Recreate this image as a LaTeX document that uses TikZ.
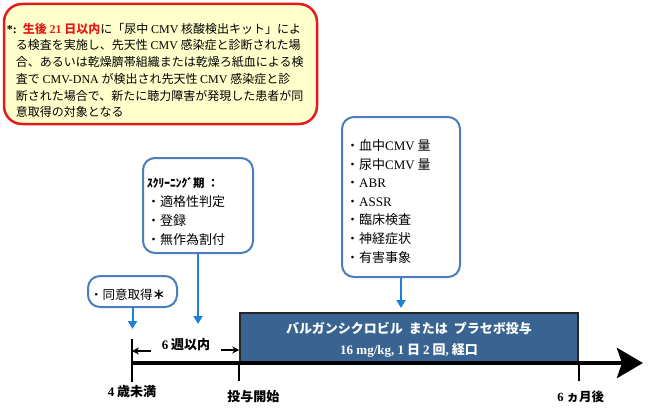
\documentclass[tikz,border=0pt]{standalone}
\usepackage{fontspec}
\setmainfont{Noto Sans CJK JP}
\newfontfamily\lat{Liberation Serif}
\usetikzlibrary{arrows.meta, positioning}

\definecolor{notered}{HTML}{E51B1B}
\definecolor{noteyellow}{HTML}{FFFFCC}
\definecolor{boxblue}{HTML}{4A7EBB}
\definecolor{arrowblue}{HTML}{1E7FD8}
\definecolor{drugblue}{HTML}{396492}

\begin{document}
\begin{tikzpicture}[x=1pt, y=-1pt]
    \tikzstyle{notebox}=[draw=notered, line width=2.5pt, fill=noteyellow, rounded corners=18pt, minimum width=313pt, minimum height=120pt]
    \tikzstyle{infobox}=[draw=boxblue, line width=2pt, rounded corners=12pt, fill=white]
    \tikzstyle{boxtext}=[anchor=base west, inner sep=0pt, font=\fontsize{13}{18.6}\selectfont]
    \tikzstyle{drugbox}=[draw=black!85, line width=1.5pt, fill=drugblue, minimum width=338pt, minimum height=49pt]
    \tikzstyle{drugtext}=[text=white, align=center, inner sep=0pt, font=\bfseries\fontsize{13}{20.5}\selectfont]
    \tikzstyle{bluearrow}=[draw=arrowblue, line width=2pt, -{Triangle[length=8pt, width=9pt]}]
    \tikzstyle{weekarrow}=[line width=1.2pt, -{Stealth[length=7pt, width=7pt]}]
    \tikzstyle{tickline}=[line width=2pt]
    \tikzstyle{timelabel}=[inner sep=0pt, font=\bfseries\fontsize{13}{15}\selectfont]

    \useasboundingbox (0,0) rectangle (651,420);

    % note at top left
    \node[notebox] (note) at (160.5,64) {};
    \node[boxtext, font=\fontsize{12}{16.7}\selectfont] (notetext) at ([shift={(4,30.5)}]note.north west) {%
        \begin{tabular}[t]{@{}p{9pt}@{}l@{}}
        \multicolumn{2}{@{}l@{}}{{\lat\bfseries *:}\hspace{6pt}{\color{notered}\bfseries 生後 {\lat 21} 日以内}に「尿中 {\lat CMV} 核酸検出キット」によ}\\
        & る検査を実施し、先天性 {\lat CMV} 感染症と診断された場\\
        & 合、あるいは乾燥臍帯組織または乾燥ろ紙血による検\\
        & 査で {\lat CMV-DNA} が検出され先天性 {\lat CMV} 感染症と診\\
        & 断された場合で、新たに聴力障害が発現した患者が同\\
        & 意取得の対象となる
        \end{tabular}};

    % boxes above the time line
    \node[infobox, minimum width=89pt, minimum height=31pt] (consent) at (132.5,291.5) {};
    \node[boxtext, font=\fontsize{12.5}{15}\selectfont] (consenttext) at ([shift={(3,8)}]consent.west) {・同意取得{\bfseries ＊}};

    \node[infobox, minimum width=110pt, minimum height=95pt] (screen) at (198,205.5) {};
    \node[boxtext, font=\fontsize{13}{18.9}\selectfont] (screentext) at ([shift={(5,30.5)}]screen.north west) {%
        \begin{tabular}[t]{@{}l@{}}
        {\bfseries\fontsize{11.5}{18.9}\selectfont ｽｸﾘｰﾆﾝｸﾞ期 ：}\\
        ・適格性判定\\
        ・登録\\
        ・無作為割付
        \end{tabular}};

    \node[infobox, minimum width=118pt, minimum height=160pt] (eval) at (401,197) {};
    \node[boxtext] (evaltext) at ([shift={(5,34.5)}]eval.north west) {%
        \begin{tabular}[t]{@{}l@{}}
        ・血中{\lat CMV} 量\\
        ・尿中{\lat CMV} 量\\
        ・{\lat ABR}\\
        ・{\lat ASSR}\\
        ・臨床検査\\
        ・神経症状\\
        ・有害事象
        \end{tabular}};

    % treatment period
    \node[drugbox] (drug) at (409,337.5) {};
    \node[drugtext] (drugtext) at ([yshift=-2.5pt]drug.center) {バルガンシクロビル\hspace{6pt}または\hspace{6pt}プラセボ投与\\{\lat 16 mg/kg, 1} 日 {\lat 2} 回{\lat ,} 経口};

    % time line
    \coordinate (t0) at (132,363);
    \coordinate (t1) at (drug.south west);
    \coordinate (t2) at (drug.south east);
    \coordinate (tend) at (643,363);
    \draw[line width=4.5pt, -{Stealth[length=26pt, width=30pt, inset=5pt]}] (t0) -- (tend);
    \draw[tickline] ([yshift=24pt]t0) -- ([yshift=-19pt]t0);
    \draw[tickline] (t1) -- ++(0,18);
    \draw[tickline] (t2) -- ++(0,18);

    \node[timelabel] (age) [below=22.5pt of t0] {{\lat 4} 歳未満};
    \node[timelabel] (start) [below=27pt of t1, xshift=14pt] {投与開始};
    \node[timelabel, font=\bfseries\fontsize{12.5}{15}\selectfont] (sixmonth) [below=28pt of t2, xshift=2pt] {{\lat 6} ヵ月後};

    % within 6 weeks
    \node[timelabel, inner xsep=11pt] (weeks) at (186,345) {{\lat 6} 週以内};
    \coordinate (wl) at ([yshift=-6pt]weeks.west);
    \coordinate (wr) at ([yshift=-5pt]weeks.east);
    \draw[weekarrow] (wl) -- (wl -| t0);
    \draw[weekarrow] (wr) -- (wr -| t1);

    % arrows to the time line
    \coordinate (consentend) at ([yshift=-21pt]consent.south);
    \coordinate (screenend) at ([yshift=-70pt]screen.south);
    \coordinate (evalend) at ([yshift=-30pt]eval.south);
    \draw[bluearrow] (consent.south) -- (consentend);
    \draw[bluearrow] (screen.south) -- (screenend);
    \draw[bluearrow] (eval.south) -- (evalend);
\end{tikzpicture}
\end{document}
